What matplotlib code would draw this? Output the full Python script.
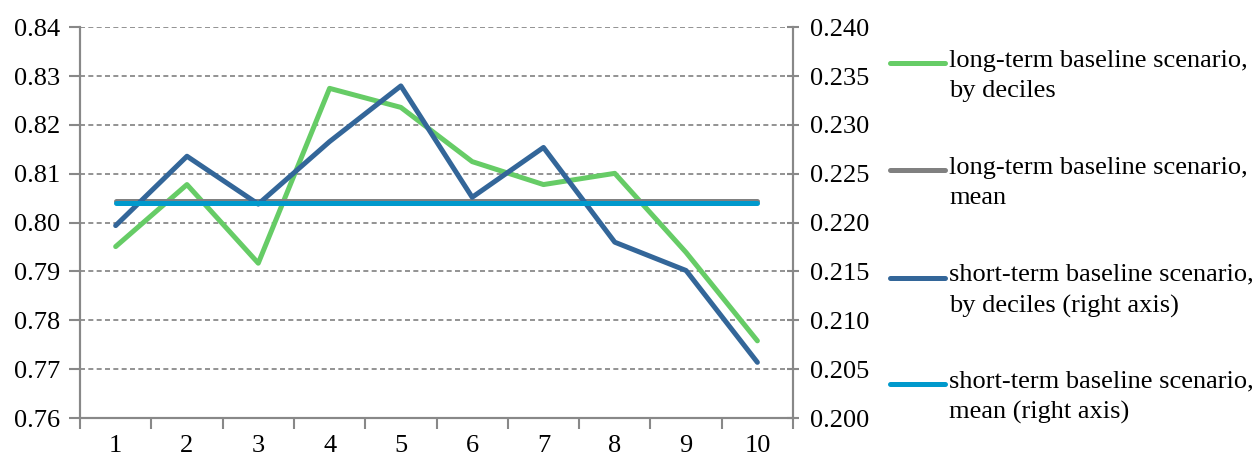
import numpy as np
import matplotlib.pyplot as plt
from matplotlib.lines import Line2D

deciles = [1, 2, 3, 4, 5, 6, 7, 8, 9, 10]

# long-term baseline (left axis)
long_term = [0.7951, 0.8078, 0.7917, 0.8275, 0.8236, 0.8125, 0.8078, 0.8101, 0.7939, 0.7758]
long_term_mean = 0.8044

# short-term baseline (right axis)
short_term = [0.2197, 0.2268, 0.2219, 0.2283, 0.2340, 0.2226, 0.2277, 0.2180, 0.2151, 0.2057]
short_term_mean = 0.2220

labels = [
    "long-term baseline scenario,\nby deciles",
    "long-term baseline scenario,\nmean",
    "short-term baseline scenario,\nby deciles (right axis)",
    "short-term baseline scenario,\nmean (right axis)",
]
colors = ["#66cc66", "#808080", "#336699", "#0099cc"]

plt.rcParams['font.family'] = ['Liberation Serif', 'DejaVu Serif']
fs = 19
lw = 3.6
axis_grey = "#888888"

fig = plt.figure(figsize=(12.58, 4.59), dpi=100)
ax = fig.add_axes([0.0636, 0.0893, 0.5668, 0.8512])
ax2 = ax.twinx()

x = np.array(deciles)
ax.plot(x, long_term, color=colors[0], lw=lw, solid_capstyle='round')
ax.plot(x, [long_term_mean] * len(x), color=colors[1], lw=lw, solid_capstyle='round')
ax2.plot(x, short_term, color=colors[2], lw=lw, solid_capstyle='round')
ax2.plot(x, [short_term_mean] * len(x), color=colors[3], lw=lw, solid_capstyle='round')

ax.set_xlim(0.5, 10.5)
ax.set_ylim(0.76, 0.84)
ax2.set_ylim(0.200, 0.240)

ax.set_yticks(np.arange(0.76, 0.8401, 0.01))
ax.set_yticklabels([f"{v:.2f}" for v in np.arange(0.76, 0.8401, 0.01)], fontsize=fs)
ax2.set_yticks(np.arange(0.200, 0.2401, 0.005))
ax2.set_yticklabels([f"{v:.3f}" for v in np.arange(0.200, 0.2401, 0.005)], fontsize=fs)

ax.set_xticks(x)
ax.set_xticklabels([str(d) for d in deciles], fontsize=fs)
ax.set_xticks(np.arange(0.5, 10.6, 1.0), minor=True)
ax.tick_params(axis='x', which='major', length=0, pad=12)
ax.tick_params(axis='x', which='minor', length=8, width=1.5, color=axis_grey, direction='out')
ax.tick_params(axis='y', length=8, width=1.5, color=axis_grey, direction='out', pad=6)
ax2.tick_params(axis='y', length=8, width=1.5, color=axis_grey, direction='inout', pad=8)

ax.yaxis.grid(True, color="#808080", linestyle=(0, (3, 2)), lw=1.2)
ax.set_axisbelow(True)

for a in (ax, ax2):
    a.spines['top'].set_visible(False)
    for s in ('left', 'right', 'bottom'):
        a.spines[s].set_color(axis_grey)
        a.spines[s].set_linewidth(1.5)

# legend on the right, handle level with the first text line
leg_y = [0.862, 0.629, 0.395, 0.163]
for lab, c, yy in zip(labels, colors, leg_y):
    fig.add_artist(Line2D([0.7075, 0.7515], [yy, yy], color=c, lw=lw,
                          solid_capstyle='round', transform=fig.transFigure))
    fig.text(0.7545, yy + 0.030, lab, fontsize=fs, va='top', ha='left',
             linespacing=1.5)

fig.savefig("out.png", dpi=100)
